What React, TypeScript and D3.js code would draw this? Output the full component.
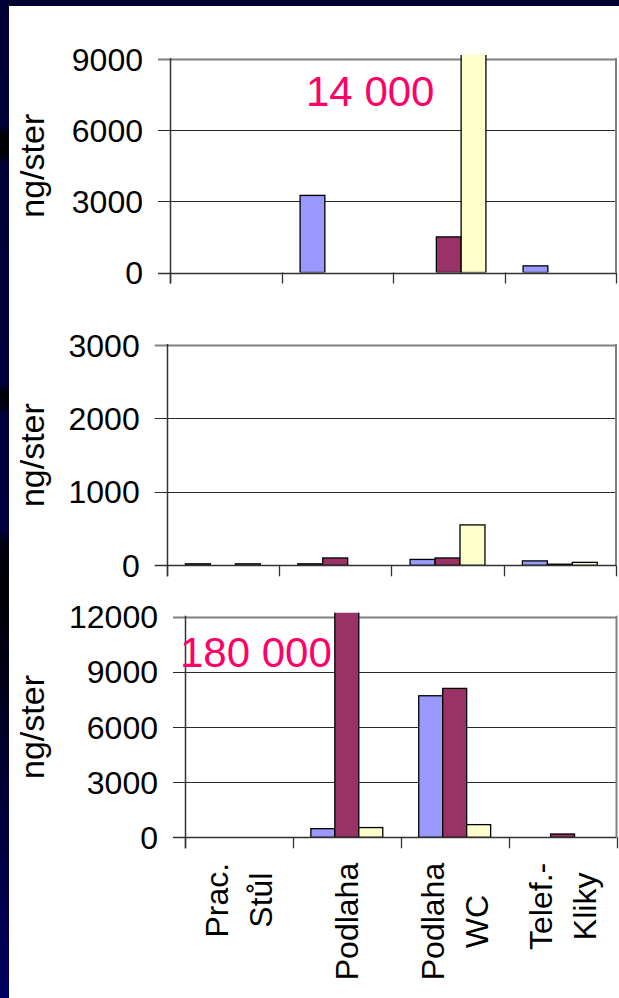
import { useEffect, useRef } from "react";
import * as d3 from "d3";

// categories (each label can wrap on several lines)
const categories = [["Prac.", "Stůl"], ["Podlaha"], ["Podlaha", "WC"], ["Telef.-", "Kliky"]];
const seriesColors = ["#9999FF", "#993366", "#FFFFCC"];

// top panel
const topBlue = [0, 3250, 0, 280];
const topMaroon = [0, 0, 1500, 0];
const topYellow = [0, 0, 14000, 0];
const topTicks = [0, 3000, 6000, 9000];

// middle panel
const midBlue = [20, 20, 80, 60];
const midMaroon = [0, 100, 100, 15];
const midYellow = [20, 0, 550, 40];
const midTicks = [0, 1000, 2000, 3000];

// bottom panel
const lowBlue = [0, 470, 7700, 0];
const lowMaroon = [0, 180000, 8100, 180];
const lowYellow = [0, 530, 690, 0];
const lowTicks = [0, 3000, 6000, 9000, 12000];

const W = 619;
const H = 998;
const FONT = "'Liberation Sans', Arial, sans-serif";

const panels = [
  {
    series: [topBlue, topMaroon, topYellow],
    ticks: topTicks,
    box: { left: 170, right: 616, top: 59, bottom: 272.5 },
    note: { text: "14 000", x: 306, y: 106 },
    showLabels: false,
  },
  {
    series: [midBlue, midMaroon, midYellow],
    ticks: midTicks,
    box: { left: 166.7, right: 616, top: 345, bottom: 565.3 },
    note: null,
    showLabels: false,
  },
  {
    series: [lowBlue, lowMaroon, lowYellow],
    ticks: lowTicks,
    box: { left: 185, right: 616.5, top: 616.7, bottom: 837.3 },
    note: { text: "180 000", x: 180, y: 667 },
    showLabels: true,
  },
];

const crisp = (v: number) => Math.round(v) + 0.5;

export default function App() {
  const ref = useRef<SVGSVGElement | null>(null);

  useEffect(() => {
    const svg = d3.select(ref.current!);
    svg.selectAll("*").remove();
    const defs = svg.append("defs");

    // slide background: dark frame on top and left
    const grad = defs
      .append("linearGradient")
      .attr("id", "strip")
      .attr("x1", 0)
      .attr("y1", 0)
      .attr("x2", 0)
      .attr("y2", 1);
    const stops: [number, string][] = [
      [0, "#000034"],
      [0.125, "#00003a"],
      [0.135, "#000008"],
      [0.155, "#000008"],
      [0.165, "#000038"],
      [0.385, "#00003c"],
      [0.392, "#00000c"],
      [0.405, "#00000c"],
      [0.415, "#00003e"],
      [0.53, "#000040"],
      [0.545, "#000010"],
      [0.59, "#000006"],
      [0.66, "#000014"],
      [0.8, "#000038"],
      [1, "#000060"],
    ];
    stops.forEach(([o, c]) => grad.append("stop").attr("offset", o).attr("stop-color", c));

    svg.append("rect").attr("width", W).attr("height", H).attr("fill", "#000033");
    svg.append("rect").attr("width", 9).attr("height", H).attr("fill", "url(#strip)");
    svg
      .append("rect")
      .attr("x", 9)
      .attr("y", 6)
      .attr("width", W - 9)
      .attr("height", H - 6)
      .attr("fill", "#ffffff");

    panels.forEach((p, pi) => {
      const { left, right, top, bottom } = p.box;
      const max = p.ticks[p.ticks.length - 1];
      const y = d3.scaleLinear().domain([0, max]).range([bottom, top]);
      const x = d3
        .scaleBand<number>()
        .domain(d3.range(categories.length))
        .range([left, right]);
      const bw = x.bandwidth();
      const xs = d3
        .scaleBand<number>()
        .domain(d3.range(p.series.length))
        .range([bw / 6, (bw * 5) / 6]);

      const g = svg.append("g");

      // gridlines (top one is the plot border)
      p.ticks
        .filter((t) => t > 0)
        .forEach((t) => {
          g.append("line")
            .attr("x1", left - 12)
            .attr("x2", right)
            .attr("y1", crisp(y(t)))
            .attr("y2", crisp(y(t)))
            .attr("stroke", t === max ? "#808080" : "#2a2a2a")
            .attr("stroke-width", t === max ? 2 : 1);
        });
      g.append("line")
        .attr("x1", right)
        .attr("x2", right)
        .attr("y1", y(max) - 1)
        .attr("y2", bottom)
        .attr("stroke", "#808080")
        .attr("stroke-width", 2);

      // bars, clipped just above the top of the plot
      defs
        .append("clipPath")
        .attr("id", `clip${pi}`)
        .append("rect")
        .attr("x", left)
        .attr("y", top - 4)
        .attr("width", right - left)
        .attr("height", bottom - top + 4);

      const barG = g.append("g").attr("clip-path", `url(#clip${pi})`);
      p.series.forEach((vals, si) => {
        barG
          .append("g")
          .selectAll("rect")
          .data(vals.map((v, i) => ({ v, i })).filter((d) => d.v > 0))
          .join("rect")
          .attr("x", (d) => x(d.i)! + xs(si)!)
          .attr("width", xs.bandwidth())
          .attr("y", (d) => y(d.v))
          .attr("height", (d) => bottom - y(d.v))
          .attr("fill", seriesColors[si])
          .attr("stroke", "#000")
          .attr("stroke-width", 1.3);
      });

      // x axis with category ticks
      g.append("line")
        .attr("x1", left - 12)
        .attr("x2", right)
        .attr("y1", crisp(bottom))
        .attr("y2", crisp(bottom))
        .attr("stroke", "#333")
        .attr("stroke-width", 1.3);
      d3.range(categories.length + 1).forEach((i) => {
        const tx = i === categories.length ? right : x(i)!;
        g.append("line")
          .attr("x1", crisp(tx))
          .attr("x2", crisp(tx))
          .attr("y1", bottom)
          .attr("y2", bottom + 11)
          .attr("stroke", "#333")
          .attr("stroke-width", 1.3);
      });

      // y axis
      g.append("line")
        .attr("x1", crisp(left))
        .attr("x2", crisp(left))
        .attr("y1", y(max) - 1)
        .attr("y2", bottom + 11)
        .attr("stroke", "#333")
        .attr("stroke-width", 1.5);

      g.selectAll("text.tick")
        .data(p.ticks)
        .join("text")
        .attr("class", "tick")
        .attr("x", left - 27)
        .attr("y", (d) => y(d))
        .attr("dy", "0.36em")
        .attr("text-anchor", "end")
        .style("font", `32px ${FONT}`)
        .attr("fill", "#000")
        .text((d) => String(d));

      g.append("text")
        .attr("transform", `translate(44,${(top + bottom) / 2}) rotate(-90)`)
        .attr("text-anchor", "middle")
        .style("font", `34px ${FONT}`)
        .attr("fill", "#000")
        .text("ng/ster");

      if (p.showLabels) {
        categories.forEach((lines, ci) => {
          const c = x(ci)! + bw / 2;
          const texts = lines.map((line) =>
            g
              .append("text")
              .attr("text-anchor", "middle")
              .style("font", `32px ${FONT}`)
              .attr("fill", "#000")
              .text(line)
          );
          const widths = texts.map((t) => (t.node() as SVGTextElement).getComputedTextLength());
          const blockW = Math.max(...widths);
          const cy = bottom + 25.5 + blockW / 2;
          texts.forEach((t, li) => {
            const bx = c + 11 + (li - (lines.length - 1) / 2) * 44;
            t.attr("transform", `translate(${bx},${cy}) rotate(-90)`);
          });
        });
      }

      if (p.note) {
        g.append("text")
          .attr("x", p.note.x)
          .attr("y", p.note.y)
          .style("font", `42px ${FONT}`)
          .attr("fill", "#FF0066")
          .text(p.note.text);
      }
    });
  }, []);

  return (
    <svg
      ref={ref}
      width={W}
      height={H}
      style={{ position: "absolute", left: 0, top: 0, display: "block" }}
    />
  );
}
